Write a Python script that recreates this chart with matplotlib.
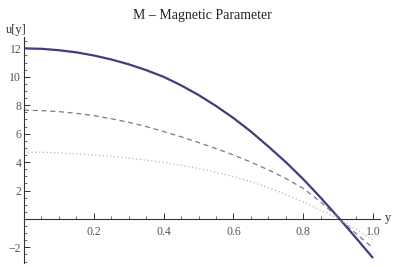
# velocity profiles u[y] for several values of the magnetic parameter M

import numpy as np
from matplotlib import pyplot as plt
from matplotlib.ticker import MultipleLocator, FixedLocator

y = [0.0, 0.05, 0.1, 0.15, 0.2, 0.25, 0.3, 0.35, 0.4, 0.45, 0.5,
     0.55, 0.6, 0.65, 0.7, 0.75, 0.8, 0.85, 0.9, 0.95, 1.0]

u_solid = [12.0, 11.97, 11.87, 11.72, 11.5, 11.22, 10.88, 10.47, 10.0, 9.4, 8.72,
           7.95, 7.1, 6.15, 5.1, 4.0, 2.8, 1.5, 0.12, -1.3, -2.75]
u_dashed = [7.65, 7.62, 7.55, 7.43, 7.27, 7.05, 6.8, 6.5, 6.15, 5.78, 5.38,
            4.95, 4.5, 4.0, 3.45, 2.85, 2.15, 1.2, 0.1, -1.0, -2.05]
u_dotted = [4.7, 4.69, 4.65, 4.58, 4.5, 4.4, 4.28, 4.13, 3.97, 3.77, 3.55,
            3.28, 2.98, 2.62, 2.2, 1.72, 1.2, 0.62, 0.03, -0.7, -1.5]

xticks = [0.2, 0.4, 0.6, 0.8, 1.0]
xticklabels = ["0.2", "0.4", "0.6", "0.8", "1.0"]
yticks = [-2, 2, 4, 6, 8, 10, 12]

plt.rcParams['font.family'] = ['Liberation Serif', 'DejaVu Serif']

W, H = 394, 267
fig = plt.figure(figsize=(W / 100, H / 100), dpi=100)
ax = fig.add_axes([24 / W, 4 / H, (380 - 24) / W, (263 - 37) / H])

ax.plot(y, u_solid, color='#3c3f7c', lw=1.6, solid_capstyle='butt')
ax.plot(y, u_dashed, color='#83728f', lw=0.9, dashes=(4, 3))
ax.plot(y, u_dotted, color='#c9a9b6', lw=0.9, dashes=(1, 2))

ax.set_xlim(0, 1.02)
ax.set_ylim(-3.1, 12.8)

for s in ['top', 'right']:
    ax.spines[s].set_visible(False)
ax.spines['bottom'].set_position(('data', 0))
ax.spines['left'].set_position(('data', 0))
for s in ['bottom', 'left']:
    ax.spines[s].set_color('#333333')
    ax.spines[s].set_linewidth(0.8)

ax.xaxis.set_major_locator(FixedLocator(xticks))
ax.set_xticklabels(xticklabels)
ax.xaxis.set_minor_locator(MultipleLocator(0.05))
ax.yaxis.set_major_locator(FixedLocator(yticks))
ax.yaxis.set_minor_locator(MultipleLocator(0.5))

ax.tick_params(axis='both', which='major', direction='in', length=4, width=0.7,
               color='#333333', labelsize=8.5, labelcolor='#555555', pad=2)
ax.tick_params(axis='both', which='minor', direction='in', length=2, width=0.5,
               color='#333333')
ax.tick_params(axis='x', which='major', pad=5)

fig.text(202 / W, 1 - 15 / H, "M \u2013 Magnetic Parameter", ha='center', va='center',
         fontsize=10, color='#222222')
fig.text(6 / W, 1 - 30 / H, "u[y]", ha='left', va='center', fontsize=9, color='#333333')
fig.text(385 / W, 1 - 218 / H, "y", ha='left', va='center', fontsize=9, color='#333333')

plt.savefig('out.png', dpi=100)
